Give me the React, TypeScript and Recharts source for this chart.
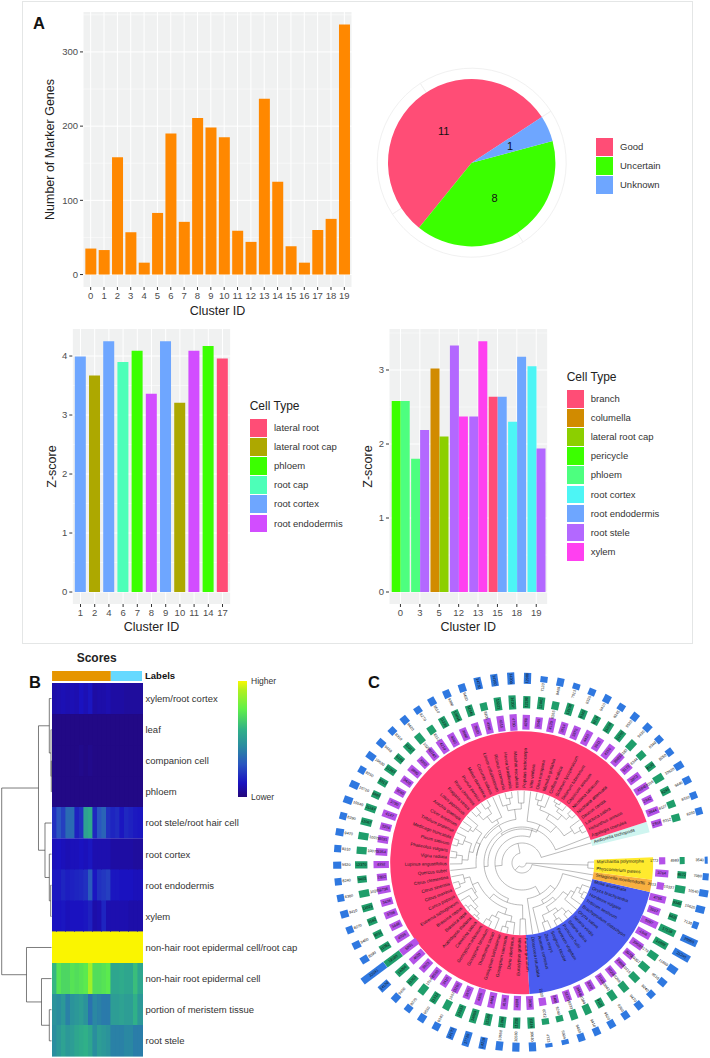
import React from "react";
import {
  BarChart,
  Bar,
  Cell,
  XAxis,
  YAxis,
  CartesianGrid,
  Label,
  LineChart,
  Line,
  PieChart,
  Pie,
} from "recharts";

const FONT = '"Liberation Sans", Arial, sans-serif';

// Panel A: marker genes per cluster
const markerClusters = ["0","1","2","3","4","5","6","7","8","9","10","11","12","13","14","15","16","17","18","19"];
const markerCounts = [35,33,158,57,16,83,190,71,211,198,185,59,44,237,125,38,16,60,75,337];

// Panel A: annotation pie
const statusNames = ["Good", "Uncertain", "Unknown"];
const statusCounts = [11, 8, 1];
const statusColors = ["#FF4D76", "#3BFF00", "#6EA6FF"];

// Panel A: z-score, left chart
const leftClusters = ["1","2","4","6","7","8","9","10","11","14","17"];
const leftScores = [3.99,3.67,4.25,3.9,4.09,3.36,4.25,3.21,4.09,4.17,3.96];
const leftTypes = ["root cortex","lateral root cap","root cortex","root cap","phloem","root endodermis","root cortex","lateral root cap","root endodermis","phloem","lateral root"];
const leftLegend = ["lateral root","lateral root cap","phloem","root cap","root cortex","root endodermis"];
const leftColors = ["#FF4D76","#ADA800","#3BFF00","#4DFFB8","#6EA6FF","#D24DFF"];

// Panel A: z-score, right chart (two dodged bars per cluster)
const rightClusters = ["0","3","5","12","13","15","18","19"];
const rightFirst = [2.58,1.8,3.02,3.33,2.37,2.64,2.3,3.05];
const rightSecond = [2.58,2.19,2.1,2.37,3.39,2.64,3.18,1.94];
const rightFirstTypes = ["pericycle","phloem","columella","root stele","root stele","branch","root cortex","root cortex"];
const rightSecondTypes = ["phloem","root stele","lateral root cap","xylem","xylem","root endodermis","root endodermis","root stele"];
const rightLegend = ["branch","columella","lateral root cap","pericycle","phloem","root cortex","root endodermis","root stele","xylem"];
const rightColors = ["#FF4D76","#D18B00","#8CCF00","#3BFF00","#4DFF7F","#4DF5F5","#6EA6FF","#B368FF","#FF40F0"];

// Panel B: heatmap
const heatRows = ["xylem/root cortex","leaf","companion cell","phloem","root stele/root hair cell","root cortex","root endodermis","xylem","non-hair root epidermal cell/root cap","non-hair root epidermal cell","portion of meristem tissue","root stele"];
const heatScores = [
  [.08,.09,.1,.09,.1,.09,.12,.1,.13,.07,.08,.08,.09,.07,.07,.07,.06,.06,.06,.06],
  [.02,.02,.02,.02,.02,.02,.02,.02,.02,.02,.02,.02,.02,.02,.02,.02,.02,.02,.02,.02],
  [.02,.02,.02,.02,.02,.02,.03,.02,.03,.02,.02,.02,.02,.02,.02,.02,.02,.02,.02,.02],
  [.02,.02,.02,.02,.02,.02,.02,.02,.02,.02,.02,.02,.02,.02,.02,.02,.02,.02,.02,.02],
  [.2,.3,.24,.36,.36,.16,.2,.54,.58,.18,.3,.34,.2,.17,.19,.13,.18,.16,.14,.13],
  [.11,.12,.11,.1,.11,.11,.12,.11,.13,.09,.09,.09,.09,.07,.07,.07,.07,.07,.06,.06],
  [.14,.14,.17,.15,.16,.17,.18,.2,.32,.13,.2,.22,.24,.13,.13,.12,.12,.12,.11,.11],
  [.12,.12,.13,.11,.12,.12,.12,.13,.16,.08,.09,.17,.09,.09,.09,.09,.09,.08,.08,.08],
  [1,1,1,1,1,1,1,1,1,1,1,1,1,1,1,1,1,1,1,1],
  [.62,.76,.72,.72,.76,.74,.76,.78,.88,.74,.74,.76,.78,.56,.56,.58,.56,.56,.64,.56],
  [.48,.46,.5,.42,.48,.5,.52,.48,.38,.44,.42,.4,.4,.52,.52,.54,.52,.52,.6,.5],
  [.46,.5,.54,.5,.52,.56,.58,.6,.56,.46,.52,.5,.48,.42,.42,.42,.44,.44,.41,.41],
];
const scoreStops: [number, string][] = [
  [0, "#24077a"], [0.12, "#1a12c0"], [0.3, "#2a55c0"], [0.45, "#2a8ca0"],
  [0.6, "#30b088"], [0.8, "#60f048"], [0.9, "#b0f020"], [1, "#faf500"],
];
const labelGroups = [13, 7];
const labelGroupColors = ["#E69500", "#66D9FF"];
// [height, child, child]; a number child is a row index
const heatTree: any = [49.8,
  [13, [2.2, 0, [0.5, 1, [0.2, 2, 3]]], [6.5, 4, [2.2, 5, [0.8, 6, 7]]]],
  [25, 8, [10, 9, [2.2, 10, 11]]],
];

// Panel C: species around the ring, counter-clockwise from Amborella
const speciesNames = [
  "Amborella trichopoda","Aquilegia coerulea","Helianthus annuus","Lactuca sativa","Daucus carota","Nicotiana attenuata","Nicotiana tabacum","Capsicum annuum","Solanum tuberosum","Solanum lycopersicum","Coffea arabica","Mimulus guttatus","Olea europaea","Vitis vinifera","Populus trichocarpa","Manihot esculenta","Hevea brasiliensis","Ricinus communis","Linum usitatissimum","Cucumis sativus","Malus domestica","Prunus persica","Rosa chinensis","Fragaria vesca","Lotus japonicus","Arachis ipaensis","Cicer arietinum","Trifolium pratense","Medicago truncatula","Pisum sativum","Phaseolus vulgaris","Vigna radiata","Lupinus angustifolius","Quercus suber","Citrus clementina","Citrus sinensis","Citrus maxima","Carica papaya","Eutrema salsugineum","Brassica napus","Brassica rapa","Arabidopsis thaliana","Camelina sativa","Gossypium arboreum","Gossypium hirsutum","Theobroma cacao","Gossypium barbadense","Gossypium raimondii","Durio zibethinus","Eucalyptus grandis","Punica granatum",
  "Dioscorea rotundata","Ananas comosus","Zea mays","Sorghum bicolor","Panicum virgatum","Panicum hallii","Setaria italica","Setaria viridis","Oryza sativa","Brachypodium distachyon","Triticum aestivum","Hordeum vulgare","Oryza brachyantha","Musa acuminata","Selaginella moellendorffii","Physcomitrium patens","Marchantia polymorpha","","",
];
const cladeSpans = [4.8, 255.2, 73.7, 5.5, 9.8, 11];
const cladeColors = ["#CFF5F0", "#FF3D72", "#4A5CF0", "#F8B040", "#FFEA2E", "none"];
const purpleCounts = [2918,3644,2942,4184,3873,3173,3960,4350,3911,4420,3870,3514,4120,3345,4260,4730,4515,4390,3930,3680,4060,4210,3740,3350,3890,3420,3060,3790,4147,3204,3021,3354,4392,2802,3738,3438,3708,3448,4036,5801,4620,3923,3560,3410,3290,3670,4905,4489,4156,4098,3930,2300,2400,3137,3454,3000,3100,3020,2980,3070,3962,4346,5097,3557,4755,2013,3764,1772,0,0];
const greenCounts = [8312,8127,9245,10316,9130,8244,10182,11260,11034,9218,9342,12108,8265,12441,12190,14207,13221,8106,11345,12094,11230,8312,10254,11017,9140,11387,9312,8465,11187,11067,10079,10070,12370,9403,10285,11021,9182,9031,11052,19180,14066,11203,10144,11312,10071,13033,14059,12189,11069,11230,11116,6012,6240,10233,10184,9120,10043,10268,10115,10307,10179,14888,17138,8425,9345,10327,8672,4983,0,0];
const blueCounts = [8260,8310,9440,10620,8250,8340,9430,9520,8245,9410,8320,7013,9460,7120,12980,14200,14160,14230,9450,9380,9510,8270,9420,8310,9440,10630,8250,10710,10540,8290,9470,8310,9520,8240,8360,9410,8270,9460,9390,33241,14120,9450,8270,9510,9340,14170,17720,14210,10650,10580,10610,4723,5904,9450,9410,9520,9360,9470,8240,9510,11860,21240,20060,7130,10620,10540,7080,3540,0,0];
// [radius, child, child...]; a 0 child is the next species tip
const eudicots: any = [36, 0,
  [34,
    [42,
      [50, [60, [67, 0, 0], 0], [56, [62, [67, 0, 0], [66, 0, [69, 0, 0]]], [60, 0, [65, 0, 0]]]],
      0],
    [38,
      [44,
        [54, [60, 0, 0], [60, [66, 0, 0], 0]],
        [46,
          [50, 0, [58, [65, 0, 0], [65, 0, 0]]],
          [46, [50, [58, 0, [62, 0, 0]], [54, [62, 0, [67, 0, 0]], [60, [66, 0, 0], 0]]], 0]]],
      [42,
        [48,
          [54, [60, 0, [66, 0, 0]], [56, 0, [62, 0, [66, [70, 0, 0], [70, 0, 0]]]]],
          [54, [60, [66, 0, 0], 0], [60, [66, 0, 0], 0]]],
        [56, 0, 0]]]],
];
const monocots: any = [36, 0,
  [42,
    [46, 0, [50, [56, [63, 0, 0], [60, [66, 0, 0], [66, 0, 0]]], [56, 0, [60, 0, [64, [68, 0, 0], 0]]]]],
    0],
];
const speciesTree: any = [4, [10, [20, 0, [27, eudicots, monocots]], 0], [66, 0, 0]];

const markerData = markerClusters.map((id, i) => ({ id, count: markerCounts[i] }));
const statusData = statusNames.map((name, i) => ({ name, value: statusCounts[i] }));
const leftData = leftClusters.map((id, i) => ({ id, score: leftScores[i] }));
const rightData = rightClusters.map((id, i) => ({ id, first: rightFirst[i], second: rightSecond[i] }));
const heatColumns = heatScores[0].map((_, j) => `c${j}`);
const heatData = heatRows.map((name) => {
  const row: any = { name };
  heatColumns.forEach((c) => { row[c] = 1; });
  return row;
});
const slotData = speciesNames.map((name) => ({ name, value: 1 }));
const cladeData = cladeSpans.map((value, i) => ({ value, fill: cladeColors[i] }));
const TIP_STEP = 360 / speciesNames.length;
const TIP_START = 16.2;
const NO_MARGIN = { top: 0, right: 0, left: 0, bottom: 0 };

const scoreColor = (v: number) => {
  let k = 1;
  while (k < scoreStops.length - 1 && v > scoreStops[k][0]) k++;
  const [a, ca] = scoreStops[k - 1];
  const [b, cb] = scoreStops[k];
  const t = Math.min(1, Math.max(0, (v - a) / (b - a)));
  const mix = (s: number) => {
    const x = parseInt(ca.slice(s, s + 2), 16);
    const y = parseInt(cb.slice(s, s + 2), 16);
    return Math.round(x + (y - x) * t);
  };
  return `rgb(${mix(1)},${mix(3)},${mix(5)})`;
};

// flatten the row dendrogram to line pieces, nulls break the line
const heatSegments: any[] = [];
const walkHeat = (node: any): number => {
  if (typeof node === "number") return node + 0.5;
  const [h, a, b] = node;
  const ya = walkHeat(a);
  const yb = walkHeat(b);
  const ha = typeof a === "number" ? 0 : a[0];
  const hb = typeof b === "number" ? 0 : b[0];
  heatSegments.push({ x: ha, y: ya }, { x: h, y: ya }, { x: h, y: yb }, { x: hb, y: yb }, { x: h, y: null });
  return (ya + yb) / 2;
};
walkHeat(heatTree);

// same for the circular species tree
const treeSegments: any[] = [];
const polar = (r: number, deg: number) => ({
  x: r * Math.cos((deg * Math.PI) / 180),
  y: r * Math.sin((deg * Math.PI) / 180),
});
let nextTip = 0;
const walkTree = (node: any): number => {
  if (node === 0) return TIP_START + TIP_STEP * nextTip++;
  const [r, ...kids] = node;
  const angles = kids.map(walkTree);
  kids.forEach((kid: any, i: number) => {
    const end = kid === 0 ? 72 : kid[0];
    treeSegments.push(polar(r, angles[i]), polar(end, angles[i]), { x: 0, y: null });
  });
  const first = angles[0];
  const last = angles[angles.length - 1];
  for (let a = first; a < last; a += 4) treeSegments.push(polar(r, a));
  treeSegments.push(polar(r, last), { x: 0, y: null });
  return (first + last) / 2;
};
walkTree(speciesTree);

const tickStyle = { fontSize: 9.5, fill: "#4d4d4d", fontFamily: FONT };
const titleStyle = { fontSize: 12.5, fill: "#222", fontFamily: FONT };
const PANEL_BG = "#f0f1f1";

const renderCount = ({ cx, cy, midAngle, index }: any) => {
  const a = (midAngle * Math.PI) / 180;
  return (
    <text x={cx + 42 * Math.cos(a)} y={cy - 42 * Math.sin(a)} textAnchor="middle" dominantBaseline="central" fontSize={11} fontFamily={FONT} fill="#111">
      {statusCounts[index]}
    </text>
  );
};

const renderSpecies = ({ cx, cy, midAngle, index }: any) => {
  const name = speciesNames[index];
  if (!name) return null;
  const left = midAngle > 90 && midAngle < 270;
  return (
    <text
      transform={`translate(${cx} ${cy}) rotate(${-midAngle}) ${left ? "translate(75 0) rotate(180)" : "translate(75 0)"}`}
      textAnchor={left ? "end" : "start"}
      dominantBaseline="central"
      fontSize={4.5}
      fontFamily={FONT}
      fill="#1a1a1a"
    >
      {name}
    </text>
  );
};

// one rotated box for a ring value, the number goes inside or just inward of it
const ringBox = (values: number[], color: string, radius: number, scale: number) =>
  ({ cx, cy, midAngle, index }: any) => {
    const v = values[index];
    if (!v) return null;
    const len = v * scale;
    const label = String(v);
    const textLen = label.length * 2.1;
    const tx = len >= textLen ? radius : radius - len / 2 - textLen / 2 - 0.8;
    const left = midAngle > 90 && midAngle < 270;
    return (
      <g transform={`translate(${cx} ${cy}) rotate(${-midAngle})`}>
        <rect x={radius - len / 2} y={-3.6} width={len} height={7.2} fill={color} />
        <text
          transform={`translate(${tx} 0) rotate(${left ? 180 : 0})`}
          textAnchor="middle"
          dominantBaseline="central"
          fontSize={3.8}
          fontFamily={FONT}
          fill="#111"
        >
          {label}
        </text>
      </g>
    );
  };

const box = (left: number, top: number): React.CSSProperties => ({ position: "absolute", left, top });

const Letter = ({ text, left, top }: { text: string; left: number; top: number }) => (
  <div style={{ ...box(left, top), font: `bold 16.5px ${FONT}`, color: "#111", lineHeight: "16px" }}>{text}</div>
);

const TypeLegend = ({ title, names, colors, left, top, textLeft }: any) => (
  <div style={{ fontFamily: FONT }}>
    {title && (
      <div style={{ ...box(left, top - 20), fontSize: 12, color: "#222", lineHeight: "14px", whiteSpace: "nowrap" }}>{title}</div>
    )}
    {names.map((name: string, i: number) => (
      <React.Fragment key={name}>
        <div style={{ ...box(left, top + i * 19.1), width: 17.6, height: 17.8, background: colors[i] }} />
        <div style={{ ...box(textLeft, top + i * 19.1 + 3), fontSize: 9.5, lineHeight: "12px", color: "#333", whiteSpace: "nowrap" }}>{name}</div>
      </React.Fragment>
    ))}
  </div>
);

export default function App() {
  return (
    <div style={{ position: "absolute", left: 0, top: 0, width: 710, height: 1058, background: "#fff", overflow: "hidden" }}>
      <style>{`body{margin:0}`}</style>
      <div style={{ ...box(22, 1), width: 669, height: 641, border: "1.5px solid #e4e6e6" }} />
      <Letter text="A" left={33} top={15} />
      <Letter text="B" left={29} top={674} />
      <Letter text="C" left={368} top={674} />

      <div style={box(30, 0)}>
        <BarChart width={330} height={322} data={markerData} margin={{ top: 12, right: 8, left: 0, bottom: 0 }}>
          <CartesianGrid fill={PANEL_BG} stroke="#fff" strokeWidth={1} horizontalValues={[0, 100, 200, 300]} />
          <CartesianGrid stroke="#fff" strokeWidth={0.5} vertical={false} horizontalValues={[50, 150, 250, 350]} />
          <XAxis dataKey="id" interval={0} tick={tickStyle} tickSize={3} tickLine={{ stroke: "#333" }} axisLine={false} height={35} padding={{ left: 1, right: 1 }}>
            <Label value="Cluster ID" position="insideBottom" offset={7} style={titleStyle} />
          </XAxis>
          <YAxis domain={[-16.8, 353.8]} ticks={[0, 100, 200, 300]} tick={tickStyle} tickSize={3} tickLine={{ stroke: "#333" }} axisLine={false} width={53}>
            <Label value="Number of Marker Genes" angle={-90} position="insideLeft" offset={20} style={{ ...titleStyle, textAnchor: "middle" }} />
          </YAxis>
          <Bar dataKey="count" fill="#FF8800" barCategoryGap="5%" isAnimationActive={false} />
        </BarChart>
      </div>

      <div style={box(360, 60)}>
        <PieChart width={210} height={210} margin={NO_MARGIN}>
          <Pie data={[{ value: 1 }, { value: 1 }, { value: 1 }, { value: 1 }]} dataKey="value" cx={111.7} cy={102.7} outerRadius={94.5} startAngle={33} endAngle={393} fill="#fff" stroke="#f1f1f1" strokeWidth={1} isAnimationActive={false} />
          <Pie data={statusData} dataKey="value" cx={111.7} cy={102.7} outerRadius={83.7} startAngle={33} endAngle={393} stroke="none" label={renderCount} labelLine={false} isAnimationActive={false}>
            {statusData.map((d, i) => <Cell key={d.name} fill={statusColors[i]} />)}
          </Pie>
        </PieChart>
      </div>
      <TypeLegend names={statusNames} colors={statusColors} left={595.7} top={138} textLeft={620} />

      <div style={box(30, 320)}>
        <BarChart width={205} height={320} data={leftData} margin={{ top: 9, right: 4.3, left: 0, bottom: 0 }}>
          <CartesianGrid fill={PANEL_BG} stroke="#fff" strokeWidth={1} horizontalValues={[0, 1, 2, 3, 4]} />
          <CartesianGrid stroke="#fff" strokeWidth={0.5} vertical={false} horizontalValues={[0.5, 1.5, 2.5, 3.5]} />
          <XAxis dataKey="id" interval={0} tick={tickStyle} tickSize={3} tickLine={{ stroke: "#333" }} axisLine={false} height={36} padding={{ left: 1.1, right: 1.1 }}>
            <Label value="Cluster ID" position="insideBottom" offset={9} style={titleStyle} />
          </XAxis>
          <YAxis domain={[-0.203, 4.458]} ticks={[0, 1, 2, 3, 4]} tick={tickStyle} tickSize={3} tickLine={{ stroke: "#333" }} axisLine={false} width={42.3}>
            <Label value="Z-score" angle={-90} position="insideLeft" offset={22} style={{ ...titleStyle, textAnchor: "middle" }} />
          </YAxis>
          <Bar dataKey="score" barCategoryGap="5%" isAnimationActive={false}>
            {leftData.map((d, i) => <Cell key={d.id} fill={leftColors[leftLegend.indexOf(leftTypes[i])]} />)}
          </Bar>
        </BarChart>
      </div>
      <TypeLegend title="Cell Type" names={leftLegend} colors={leftColors} left={249.7} top={419} textLeft={274} />

      <div style={box(345, 320)}>
        <BarChart width={206.7} height={320} data={rightData} barGap={0} barCategoryGap="5%" margin={{ top: 9, right: 4, left: 0, bottom: 0 }}>
          <CartesianGrid fill={PANEL_BG} stroke="#fff" strokeWidth={1} horizontalValues={[0, 1, 2, 3]} />
          <CartesianGrid stroke="#fff" strokeWidth={0.5} vertical={false} horizontalValues={[0.5, 1.5, 2.5, 3.5]} />
          <XAxis dataKey="id" interval={0} tick={tickStyle} tickSize={3} tickLine={{ stroke: "#333" }} axisLine={false} height={36} padding={{ left: 1.75, right: 1.75 }}>
            <Label value="Cluster ID" position="insideBottom" offset={9} style={titleStyle} />
          </XAxis>
          <YAxis domain={[-0.162, 3.554]} ticks={[0, 1, 2, 3]} tick={tickStyle} tickSize={3} tickLine={{ stroke: "#333" }} axisLine={false} width={44}>
            <Label value="Z-score" angle={-90} position="insideLeft" offset={23} style={{ ...titleStyle, textAnchor: "middle" }} />
          </YAxis>
          <Bar dataKey="first" isAnimationActive={false}>
            {rightData.map((d, i) => <Cell key={d.id} fill={rightColors[rightLegend.indexOf(rightFirstTypes[i])]} />)}
          </Bar>
          <Bar dataKey="second" isAnimationActive={false}>
            {rightData.map((d, i) => <Cell key={d.id} fill={rightColors[rightLegend.indexOf(rightSecondTypes[i])]} />)}
          </Bar>
        </BarChart>
      </div>
      <TypeLegend title="Cell Type" names={rightLegend} colors={rightColors} left={566.7} top={390} textLeft={590.7} />

      <div style={{ ...box(0, 650.5), width: 193.4, textAlign: "center", font: `bold 12px ${FONT}`, color: "#222" }}>Scores</div>
      <div style={{ ...box(145, 670), font: `bold 9.5px ${FONT}`, color: "#111" }}>Labels</div>
      <div style={box(51.5, 671)}>
        <BarChart layout="vertical" width={90.5} height={9.7} data={[{ name: "Labels", a: labelGroups[0], b: labelGroups[1] }]} barCategoryGap={0} margin={NO_MARGIN}>
          <XAxis type="number" hide domain={[0, 20]} />
          <YAxis type="category" dataKey="name" hide />
          <Bar dataKey="a" stackId="g" fill={labelGroupColors[0]} isAnimationActive={false} />
          <Bar dataKey="b" stackId="g" fill={labelGroupColors[1]} isAnimationActive={false} />
        </BarChart>
      </div>
      <div style={box(51.5, 683.3)}>
        <BarChart layout="vertical" width={350} height={373.4} data={heatData} barCategoryGap={0} margin={NO_MARGIN}>
          <XAxis type="number" hide domain={[0, 20]} />
          <YAxis type="category" dataKey="name" orientation="right" interval={0} width={259.5} tick={{ fontSize: 9.5, fill: "#333", fontFamily: FONT }} tickLine={false} tickSize={0} axisLine={false} tickMargin={3} />
          {heatColumns.map((c, j) => (
            <Bar key={c} dataKey={c} stackId="h" isAnimationActive={false}>
              {heatRows.map((r, i) => {
                const col = scoreColor(heatScores[i][j]);
                return <Cell key={r} fill={col} stroke={col} strokeWidth={0.6} shapeRendering="crispEdges" />;
              })}
            </Bar>
          ))}
        </BarChart>
      </div>
      <div style={box(0, 683.3)}>
        <LineChart width={51.5} height={373.4} data={heatSegments} margin={NO_MARGIN}>
          <XAxis type="number" dataKey="x" hide reversed domain={[0, 51.5]} />
          <YAxis type="number" hide reversed domain={[0, 12]} />
          <Line dataKey="y" stroke="#444" strokeWidth={0.7} dot={false} isAnimationActive={false} />
        </LineChart>
      </div>
      <div style={{ ...box(238, 681.3), width: 9, height: 116, background: "linear-gradient(#f8f800 0%, #b0f020 8%, #60f048 24%, #30b088 42%, #2a8ca0 56%, #2a55c0 72%, #1a12c0 88%, #24077a 100%)" }} />
      <div style={{ ...box(251, 676), font: `8.5px ${FONT}`, color: "#333" }}>Higher</div>
      <div style={{ ...box(251, 792), font: `8.5px ${FONT}`, color: "#333" }}>Lower</div>

      <div style={box(310, 650)}>
        <PieChart width={400} height={408} margin={NO_MARGIN}>
          <Pie data={cladeData} dataKey="value" cx={211.7} cy={212.7} innerRadius={72.5} outerRadius={131.5} startAngle={13.4} endAngle={373.4} stroke="none" isAnimationActive={false}>
            {cladeData.map((d, i) => <Cell key={i} fill={d.fill} />)}
          </Pie>
          <Pie data={slotData} dataKey="value" cx={211.7} cy={212.7} innerRadius={1} outerRadius={2} startAngle={13.63} endAngle={373.63} fill="none" stroke="none" label={renderSpecies} labelLine={false} isAnimationActive={false} />
          <Pie data={slotData} dataKey="value" cx={211.7} cy={212.7} innerRadius={1} outerRadius={2} startAngle={13.63} endAngle={373.63} fill="none" stroke="none" label={ringBox(purpleCounts, "#B452E8", 140.5, 0.0035)} labelLine={false} isAnimationActive={false} />
          <Pie data={slotData} dataKey="value" cx={211.7} cy={212.7} innerRadius={1} outerRadius={2} startAngle={13.63} endAngle={373.63} fill="none" stroke="none" label={ringBox(greenCounts, "#1F9E6B", 160.5, 0.001)} labelLine={false} isAnimationActive={false} />
          <Pie data={slotData} dataKey="value" cx={211.7} cy={212.7} innerRadius={1} outerRadius={2} startAngle={13.63} endAngle={373.63} fill="none" stroke="none" label={ringBox(blueCounts, "#2F78E0", 184.5, 0.00085)} labelLine={false} isAnimationActive={false} />
        </PieChart>
      </div>
      <div style={box(446.7, 787.7)}>
        <LineChart width={150} height={150} data={treeSegments} margin={NO_MARGIN}>
          <XAxis type="number" dataKey="x" hide domain={[-75, 75]} />
          <YAxis type="number" hide domain={[-75, 75]} />
          <Line dataKey="y" stroke="#777" strokeWidth={0.5} dot={false} isAnimationActive={false} />
        </LineChart>
      </div>
    </div>
  );
}
